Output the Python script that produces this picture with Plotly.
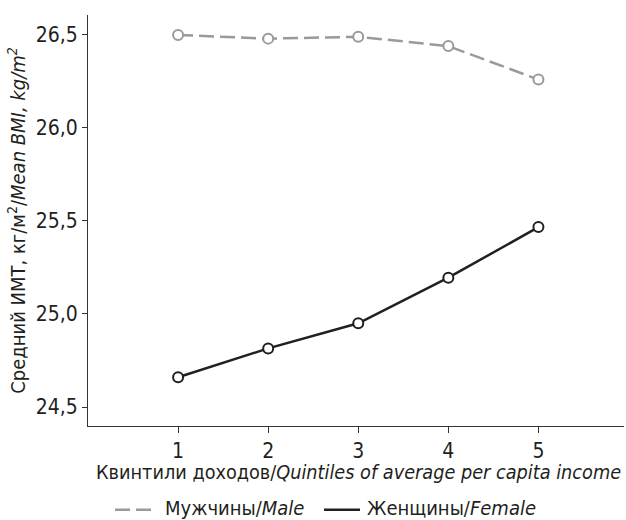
import plotly.graph_objects as go

quintiles = [1, 2, 3, 4, 5]
male_bmi = [26.50, 26.48, 26.49, 26.44, 26.26]
female_bmi = [24.66, 24.815, 24.95, 25.195, 25.467]
y_ticks = [24.5, 25.0, 25.5, 26.0, 26.5]

x_title = "Квинтили доходов/<i>Quintiles of average per capita income</i>"
y_title = "Средний ИМТ, кг/м<sup>2</sup>/<i>Mean BMI, kg/m<sup>2</sup></i>"
male_name = "Мужчины/<i>Male</i>"
female_name = "Женщины/<i>Female</i>"

FONT = "DejaVu Sans Condensed, Liberation Sans Narrow, sans-serif"
INK = "#231f20"
GRAY = "#9a9a9c"
DASH = "15px,6px"

fig = go.Figure()

fig.add_trace(go.Scatter(
    x=quintiles, y=male_bmi, mode="lines+markers", name=male_name, showlegend=False,
    line=dict(color=GRAY, width=2.5, dash=DASH),
    marker=dict(symbol="circle", size=10, color="white", line=dict(color=GRAY, width=2)),
))
fig.add_trace(go.Scatter(
    x=quintiles, y=female_bmi, mode="lines+markers", name=female_name, showlegend=False,
    line=dict(color=INK, width=2.5),
    marker=dict(symbol="circle", size=10, color="white", line=dict(color=INK, width=2)),
))

# key below the axis: short line sample followed by its label
LEG_Y = -0.204
key = [
    (male_name, GRAY, DASH, 0.0504, 0.1175, 0.139),
    (female_name, INK, "solid", 0.4403, 0.5075, 0.5175),
]
shapes = []
annotations = []
for name, color, dash, x0, x1, xt in key:
    shapes.append(dict(type="line", xref="paper", yref="paper", x0=x0, x1=x1,
                       y0=LEG_Y, y1=LEG_Y, line=dict(color=color, width=2.5, dash=dash)))
    annotations.append(dict(text=name, xref="paper", yref="paper", x=xt, y=LEG_Y + 0.004,
                            xanchor="left", yanchor="middle", showarrow=False,
                            font=dict(size=20, color=INK)))

annotations.append(dict(text=x_title, xref="paper", yref="paper", x=0.505, y=-0.114,
                        xanchor="center", yanchor="middle", showarrow=False,
                        font=dict(size=19.7, color=INK)))

fig.update_layout(
    width=626, height=520,
    margin=dict(l=88, r=2, t=15, b=94),
    paper_bgcolor="white", plot_bgcolor="white",
    separators=", ",
    showlegend=False,
    font=dict(family=FONT, size=20, color=INK),
    shapes=shapes,
    annotations=annotations,
    xaxis=dict(
        range=[0, 5.95], tickvals=quintiles, ticks="outside", ticklen=6,
        tickcolor="#333", showline=True, linecolor="#333", linewidth=1.2,
        showgrid=False, zeroline=False, tickfont=dict(size=21), automargin=False,
    ),
    yaxis=dict(
        range=[24.398, 26.607], tickvals=y_ticks, tickformat=".1f", ticks="outside",
        ticklen=5, tickcolor="#333", showline=True, linecolor="#333", linewidth=1.2,
        showgrid=False, zeroline=False, tickfont=dict(size=21), automargin=False,
        title=dict(text=y_title, font=dict(size=20), standoff=4),
    ),
)

fig.write_html("out.html")
